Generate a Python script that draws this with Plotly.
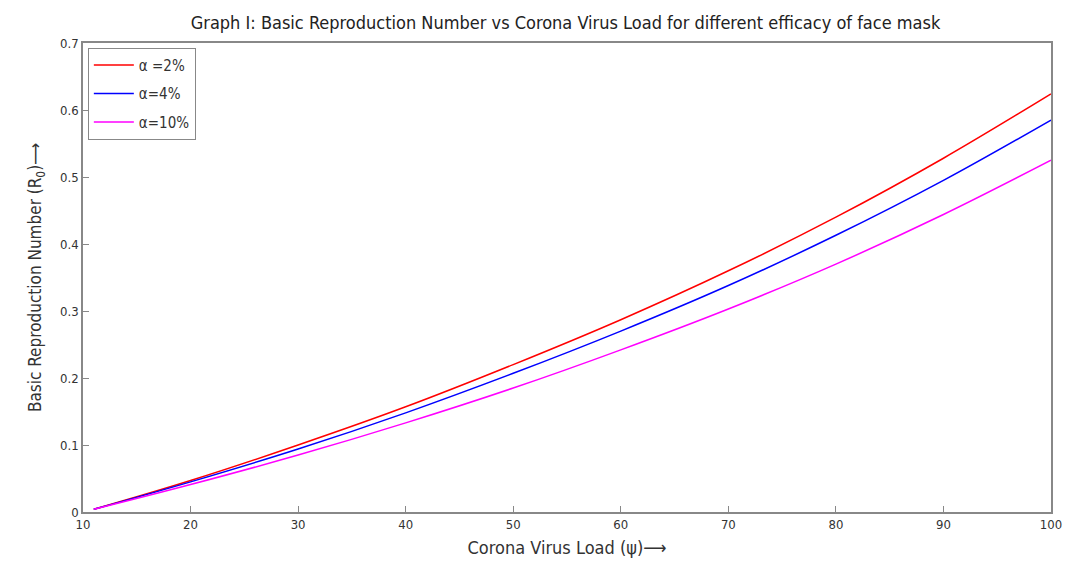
import plotly.graph_objects as go

x_vals = [11, 20, 30, 40, 50, 60, 70, 80, 90, 100]
red_vals = [0.004, 0.047, 0.100, 0.157, 0.220, 0.287, 0.360, 0.440, 0.528, 0.624]
blue_vals = [0.004, 0.045, 0.094, 0.148, 0.207, 0.270, 0.338, 0.413, 0.495, 0.585]
mag_vals = [0.004, 0.041, 0.085, 0.133, 0.185, 0.242, 0.303, 0.370, 0.444, 0.525]
names = ["α =2%", "α=4%", "α=10%"]
x_ticks = [10, 20, 30, 40, 50, 60, 70, 80, 90, 100]
y_ticks = [0, 0.1, 0.2, 0.3, 0.4, 0.5, 0.6, 0.7]

FONT = "DejaVu Sans Condensed, Liberation Sans Narrow, Arial Narrow, sans-serif"

fig = go.Figure()
for i, (vals, color, name) in enumerate(zip([red_vals, blue_vals, mag_vals], ["#ff0000", "#0000ff", "#ff00ff"], names)):
    fig.add_trace(go.Scatter(x=x_vals, y=vals, mode="lines", name=name, legendgroup=f"g{i}",
                             line=dict(color=color, width=1.5, shape="spline")))

axis_common = dict(showline=True, linecolor="#888888", linewidth=1.5, mirror=True, automargin=False,
                   ticks="inside", ticklen=6, tickcolor="#888888", showgrid=False, zeroline=False,
                   tickfont=dict(family=FONT, size=13, color="#333333"))
fig.update_xaxes(range=[10, 100], tickvals=x_ticks, ticktext=[str(v) for v in x_ticks],
                 title=dict(text="Corona Virus Load (ψ)⟶", font=dict(family=FONT, size=18, color="#333333"), standoff=10),
                 **axis_common)
fig.update_yaxes(range=[0, 0.7], tickvals=y_ticks, ticktext=["0", "0.1", "0.2", "0.3", "0.4", "0.5", "0.6", "0.7"],
                 title=dict(text="Basic Reproduction Number (R<sub>0</sub>)⟶", font=dict(family=FONT, size=17, color="#333333"), standoff=14),
                 **axis_common)
fig.update_layout(
    width=1067, height=563,
    margin=dict(l=83, r=16, t=43, b=51),
    paper_bgcolor="white", plot_bgcolor="white",
    title=dict(text="Graph I: Basic Reproduction Number vs Corona Virus Load for different efficacy of face mask",
               x=0.53, xanchor="center", y=0.96, yanchor="middle",
               font=dict(family=FONT, size=18, color="#222222")),
    legend=dict(x=0.005, y=0.99, xanchor="left", yanchor="top", bordercolor="#888888", borderwidth=1,
                bgcolor="white", font=dict(family=FONT, size=15, color="#333333"), tracegroupgap=6,
                itemwidth=40),
    showlegend=True,
)
fig.write_html("out.html")
